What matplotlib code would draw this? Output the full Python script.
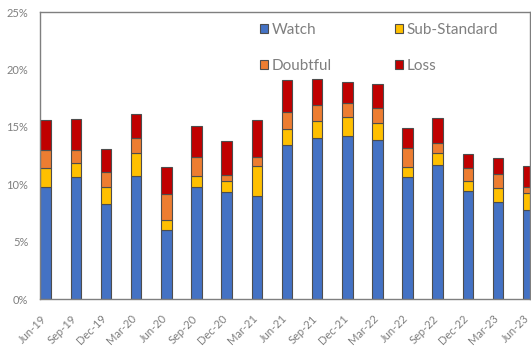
import matplotlib
matplotlib.use("Agg")
import matplotlib.pyplot as plt
from matplotlib.ticker import PercentFormatter
from matplotlib.transforms import ScaledTranslation

quarters = ["Jun-19", "Sep-19", "Dec-19", "Mar-20", "Jun-20", "Sep-20", "Dec-20",
            "Mar-21", "Jun-21", "Sep-21", "Dec-21", "Mar-22", "Jun-22", "Sep-22",
            "Dec-22", "Mar-23", "Jun-23"]

# Shares of the loan book by classification, in percent
watch = [9.8, 10.6, 8.3, 10.75, 6.0, 9.8, 9.3, 9.0, 13.4, 14.05, 14.2, 13.9,
         10.6, 11.65, 9.45, 8.5, 7.8]
sub_standard = [1.65, 1.3, 1.45, 1.95, 0.9, 0.95, 0.95, 2.6, 1.4, 1.5, 1.7, 1.45,
                0.95, 1.05, 0.85, 1.2, 1.4]
doubtful = [1.5, 1.1, 1.35, 1.3, 2.25, 1.65, 0.55, 0.8, 1.5, 1.4, 1.15, 1.3,
            1.6, 0.9, 1.1, 1.2, 0.55]
loss = [2.7, 2.7, 2.0, 2.1, 2.35, 2.7, 3.0, 3.2, 2.8, 2.25, 1.85, 2.1,
        1.75, 2.2, 1.25, 1.4, 1.85]

series = [("Watch", watch, "#4472C4"),
          ("Sub-Standard", sub_standard, "#FFC000"),
          ("Doubtful", doubtful, "#ED7D31"),
          ("Loss", loss, "#C00000")]

plt.rcParams["font.family"] = ["Lato", "DejaVu Sans"]

fig = plt.figure(figsize=(5.31, 3.5), dpi=100)
ax = fig.add_axes([39.5 / 531, 1 - 299 / 350, (530 - 39.5) / 531, (299 - 12.3) / 350])

x = list(range(len(quarters)))
bottom = [0.0] * len(quarters)
handles = {}
for name, vals, color in series:
    bars = ax.bar(x, vals, width=0.35, bottom=bottom, color=color,
                  edgecolor="#4d4d4d", linewidth=0.8, label=name)
    handles[name] = bars
    bottom = [b + v for b, v in zip(bottom, vals)]

ax.set_xlim(-0.206, 16.06)
ax.set_ylim(0, 25)
ax.set_yticks([0, 5, 10, 15, 20, 25])
ax.yaxis.set_major_formatter(PercentFormatter(decimals=0))
ax.set_xticks(x)

ax.tick_params(axis="both", length=0, labelsize=8, colors="#7f7f7f")
ax.tick_params(axis="y", pad=8)
ax.tick_params(axis="x", pad=10)
for s in ax.spines.values():
    s.set_color("#7f7f7f")
    s.set_linewidth(1.0)

ax.set_xticklabels(quarters, rotation=45, ha="right", rotation_mode="anchor")
# nudge the slanted date labels a few pixels left
shift = ScaledTranslation(-5 / 100, 0, fig.dpi_scale_trans)
for lbl in ax.get_xticklabels():
    lbl.set_transform(lbl.get_transform() + shift)

# two rows: Watch / Sub-Standard, then Doubtful / Loss (legend fills by column)
order = ["Watch", "Doubtful", "Sub-Standard", "Loss"]
leg = ax.legend(handles=[handles[n] for n in order], labels=order, ncol=2,
                loc="upper left", bbox_to_anchor=(0.422, 1.01),
                frameon=False, fontsize=11, handlelength=0.5, handleheight=0.5,
                handletextpad=0.25, columnspacing=4.15, labelspacing=1.4,
                labelcolor="#7f7f7f")

fig.savefig("out.png", dpi=100)
